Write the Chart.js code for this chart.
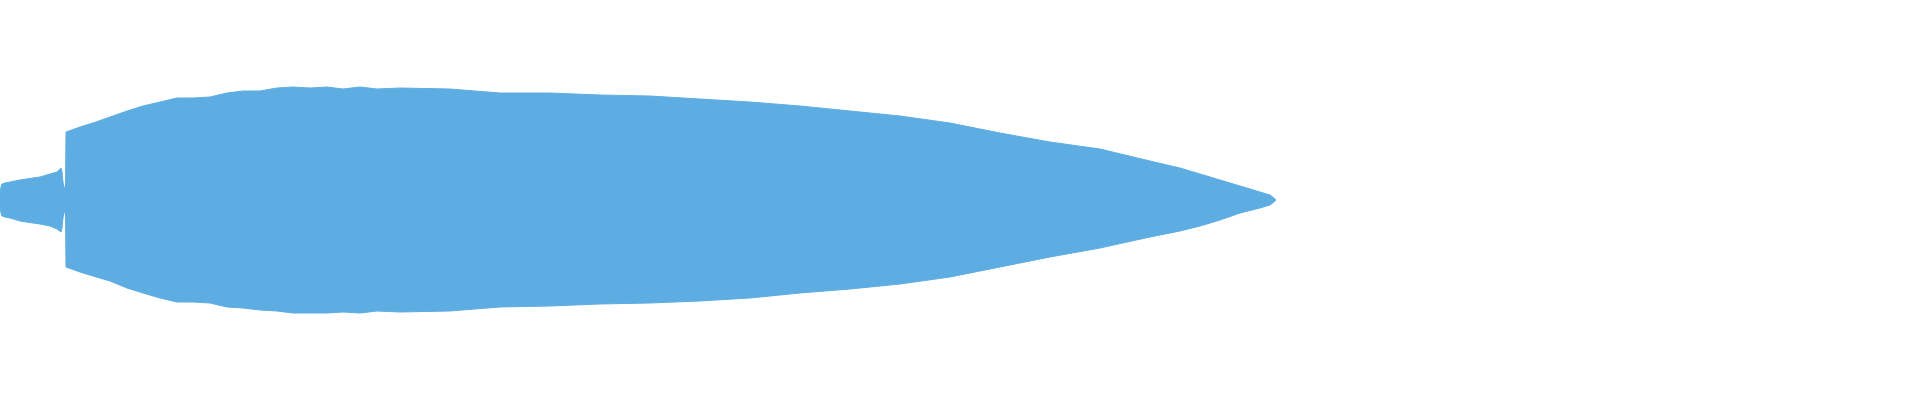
<!DOCTYPE html>
<html>
<head>
<meta charset="utf-8">
<script src="https://cdn.jsdelivr.net/npm/chart.js@4/dist/chart.umd.min.js"></script>
<style>
  html, body { margin: 0; padding: 0; background: #ffffff; }
  #wrap { width: 1920px; height: 400px; position: relative; }
</style>
</head>
<body>
<div id="wrap"><canvas id="c"></canvas></div>
<script>
// Time (seconds) of each envelope reading
const timeSec = [0, 0.125, 0.25, 0.625, 1.25, 2.5, 4.125, 5, 6.25, 7.125, 7.625, 7.75, 7.875, 8.0, 8.1875,
  8.25, 10, 11.625, 13.75, 15.875, 17.875, 20, 22.125, 24.125, 26.25, 28.375, 30.375, 32.5, 34.625,
  36.625, 38.75, 40.875, 42.875, 45, 47.125, 50, 56.25, 62.5, 68.75, 75, 81.25, 87.5, 93.75, 100,
  106.25, 112.5, 118.75, 125, 131.25, 137.5, 143.75, 147.5, 150, 152.5, 155, 157.5, 158.75, 159.375, 159.5];

// Positive peak envelope of the waveform
const peakMax = [0.035, 0.065, 0.08, 0.085, 0.09, 0.10, 0.11, 0.115, 0.13, 0.14, 0.16, 0.14, 0.09, 0.065, 0.06,
  0.34, 0.365, 0.385, 0.415, 0.445, 0.47, 0.49, 0.51, 0.51, 0.515, 0.535, 0.545, 0.545, 0.56,
  0.565, 0.56, 0.565, 0.555, 0.565, 0.555, 0.56, 0.555, 0.535, 0.535, 0.525, 0.52, 0.505, 0.49, 0.47,
  0.445, 0.42, 0.385, 0.335, 0.29, 0.255, 0.195, 0.16, 0.13, 0.10, 0.07, 0.04, 0.025, 0.005, 0];

// Negative peak envelope of the waveform
const peakMin = [-0.035, -0.065, -0.08, -0.085, -0.09, -0.105, -0.115, -0.12, -0.13, -0.145, -0.16, -0.14, -0.09, -0.065, -0.06,
  -0.335, -0.36, -0.38, -0.405, -0.44, -0.465, -0.49, -0.51, -0.51, -0.515, -0.535, -0.54, -0.55, -0.555,
  -0.565, -0.565, -0.565, -0.56, -0.565, -0.555, -0.56, -0.555, -0.535, -0.53, -0.52, -0.515, -0.505, -0.49, -0.465,
  -0.445, -0.42, -0.385, -0.335, -0.285, -0.24, -0.185, -0.155, -0.13, -0.10, -0.065, -0.04, -0.025, -0.005, 0];

const durationSec = 240;
const waveColor = '#5DADE2';

const upper = timeSec.map((t, i) => ({ x: t, y: peakMax[i] }));
const lower = timeSec.map((t, i) => ({ x: t, y: peakMin[i] }));

new Chart(document.getElementById('c'), {
  type: 'line',
  data: {
    datasets: [
      { label: 'max', data: upper, borderColor: waveColor, backgroundColor: waveColor,
        borderWidth: 1, pointRadius: 0, tension: 0, fill: '+1' },
      { label: 'min', data: lower, borderColor: waveColor, backgroundColor: waveColor,
        borderWidth: 1, pointRadius: 0, tension: 0, fill: false }
    ]
  },
  options: {
    responsive: true,
    maintainAspectRatio: false,
    animation: false,
    layout: { padding: 0 },
    plugins: { legend: { display: false }, tooltip: { enabled: false }, title: { display: false } },
    scales: {
      x: { type: 'linear', min: 0, max: durationSec, display: false },
      y: { min: -1, max: 1, display: false }
    }
  }
});
</script>
</body>
</html>
